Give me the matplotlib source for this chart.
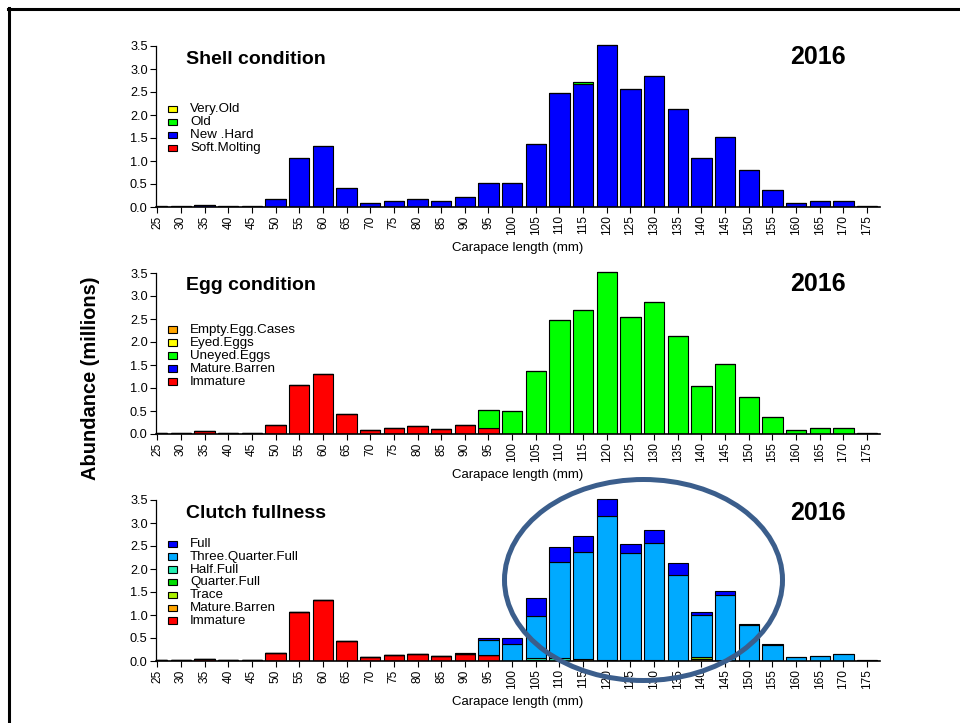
import matplotlib
matplotlib.use("Agg")
import matplotlib.pyplot as plt
from matplotlib.patches import Rectangle, Ellipse
from matplotlib.lines import Line2D
import numpy as np

plt.rcParams['font.family'] = ['Liberation Sans', 'DejaVu Sans']

# ---------------- data ----------------
sizes = [25, 30, 35, 40, 45, 50, 55, 60, 65, 70, 75, 80, 85, 90, 95, 100,
         105, 110, 115, 120, 125, 130, 135, 140, 145, 150, 155, 160, 165, 170, 175]
year = "2016"

# Shell condition (stack order bottom -> top)
shell_soft_molting = [0, 0, 0, 0, 0, 0, 0, 0, 0, 0, 0, 0, 0, 0, 0, 0,
                      0, 0.02, 0, 0, 0, 0, 0, 0.02, 0, 0, 0, 0, 0, 0, 0]
shell_new_hard = [0.02, 0.02, 0.05, 0.02, 0.02, 0.18, 1.06, 1.32, 0.42, 0.09, 0.14, 0.17, 0.12, 0.21, 0.52, 0.52,
                  1.36, 2.45, 2.68, 3.52, 2.56, 2.84, 2.14, 1.04, 1.53, 0.81, 0.38, 0.08, 0.12, 0.14, 0.03]
shell_old = [0, 0, 0, 0, 0, 0, 0, 0, 0, 0, 0, 0, 0, 0, 0, 0,
             0, 0, 0.03, 0, 0, 0, 0, 0, 0, 0, 0, 0, 0, 0, 0]
shell_very_old = [0] * 31

# Egg condition
egg_immature = [0.02, 0.02, 0.06, 0.02, 0.02, 0.19, 1.07, 1.31, 0.43, 0.08, 0.14, 0.17, 0.10, 0.19, 0.14, 0.01,
                0, 0, 0, 0, 0, 0, 0, 0, 0, 0, 0, 0, 0, 0, 0]
egg_mature_barren = [0] * 31
egg_uneyed = [0, 0, 0, 0, 0, 0, 0, 0, 0, 0, 0, 0, 0, 0, 0.38, 0.48,
              1.36, 2.48, 2.69, 3.52, 2.54, 2.86, 2.13, 1.05, 1.53, 0.81, 0.37, 0.08, 0.12, 0.14, 0.02]
egg_eyed = [0] * 31
egg_empty = [0] * 31

# Clutch fullness
cl_immature = [0.02, 0.02, 0.05, 0.02, 0.02, 0.17, 1.06, 1.33, 0.43, 0.08, 0.14, 0.16, 0.10, 0.15, 0.12, 0,
               0, 0, 0, 0, 0, 0, 0, 0, 0, 0, 0, 0, 0, 0, 0]
cl_mature_barren = [0, 0, 0, 0, 0, 0, 0, 0, 0, 0, 0, 0, 0, 0, 0, 0,
                    0, 0, 0.05, 0.03, 0.02, 0.02, 0, 0.05, 0, 0, 0, 0, 0, 0, 0]
cl_trace = [0, 0, 0, 0, 0, 0, 0, 0, 0, 0, 0, 0, 0, 0, 0, 0,
            0, 0, 0, 0, 0, 0, 0, 0.03, 0, 0, 0, 0, 0, 0, 0]
cl_quarter = [0, 0, 0, 0, 0, 0, 0, 0, 0, 0, 0, 0, 0, 0, 0, 0,
              0.02, 0, 0, 0, 0, 0, 0, 0, 0, 0, 0, 0, 0, 0, 0]
cl_half = [0, 0, 0, 0, 0, 0, 0, 0, 0, 0, 0, 0, 0, 0, 0, 0,
           0.04, 0.07, 0, 0, 0, 0, 0, 0, 0, 0, 0, 0, 0, 0, 0]
cl_three_quarter = [0, 0, 0, 0, 0, 0, 0, 0, 0, 0, 0, 0, 0, 0.03, 0.34, 0.37,
                    0.92, 2.09, 2.31, 3.13, 2.33, 2.54, 1.88, 0.93, 1.44, 0.78, 0.355, 0.08, 0.10, 0.146, 0.015]
cl_full = [0, 0, 0, 0, 0, 0, 0, 0, 0, 0, 0, 0, 0, 0, 0.04, 0.12,
           0.38, 0.31, 0.35, 0.36, 0.20, 0.28, 0.26, 0.045, 0.08, 0.02, 0.01, 0, 0, 0, 0]

panels = [
    dict(title="Shell condition", zero_y=207, leg_y=109, leg_sp=13.0, xlab_y=248, title_y=60, year_y=57,
         series=[("Soft.Molting", shell_soft_molting, "#FF0000"),
                 ("New .Hard", shell_new_hard, "#0000FF"),
                 ("Old", shell_old, "#00FF00"),
                 ("Very.Old", shell_very_old, "#FFFF00")]),
    dict(title="Egg condition", zero_y=434, leg_y=330, leg_sp=12.9, xlab_y=475, title_y=286, year_y=284,
         series=[("Immature", egg_immature, "#FF0000"),
                 ("Mature.Barren", egg_mature_barren, "#0000FF"),
                 ("Uneyed.Eggs", egg_uneyed, "#00FF00"),
                 ("Eyed.Eggs", egg_eyed, "#FFFF00"),
                 ("Empty.Egg.Cases", egg_empty, "#FFA500")]),
    dict(title="Clutch fullness", zero_y=661, leg_y=544, leg_sp=12.8, xlab_y=702, title_y=514, year_y=513,
         series=[("Immature", cl_immature, "#FF0000"),
                 ("Mature.Barren", cl_mature_barren, "#FFA500"),
                 ("Trace", cl_trace, "#AAF000"),
                 ("Quarter.Full", cl_quarter, "#00DD00"),
                 ("Half.Full", cl_half, "#22EEB0"),
                 ("Three.Quarter.Full", cl_three_quarter, "#00AAFF"),
                 ("Full", cl_full, "#0000FF")]),
]

W, H = 960, 723
fig = plt.figure(figsize=(W / 100, H / 100), dpi=100)


def fx(x):
    return x / W


def fy(y):
    return 1 - y / H


px_per_unit = 161 / 3.5
ymax = 3.55
x = np.arange(len(sizes))

for p in panels:
    ax = fig.add_axes([fx(156), fy(p["zero_y"]), (880 - 156) / W, px_per_unit * ymax / H])
    bottom = np.zeros(len(sizes))
    for lab, vals, col in p["series"]:
        v = np.array(vals, dtype=float)
        ax.bar(x, v, width=0.86, bottom=bottom, color=col, edgecolor="black", linewidth=0.8)
        bottom += v
    ax.set_xlim(-0.055, 30.55)
    ax.set_ylim(0, ymax)
    for s in ("top", "right"):
        ax.spines[s].set_visible(False)
    ax.spines["left"].set_bounds(0, 3.5)
    ax.spines["left"].set_linewidth(0.9)
    ax.spines["bottom"].set_linewidth(1.2)
    yt = np.arange(0, 3.51, 0.5)
    ax.set_yticks(yt)
    ax.set_yticklabels([f"{v:.1f}" for v in yt])
    ax.set_xticks(x)
    ax.set_xticklabels([str(s) for s in sizes], rotation=90)
    ax.tick_params(axis="both", direction="out", length=4, width=0.8, pad=2)
    ax.tick_params(axis="y", labelsize=9.2)
    ax.tick_params(axis="x", labelsize=8.6)

    fig.text(fx(186), fy(p["title_y"]), p["title"], fontsize=14, fontweight="bold",
             ha="left", va="center")
    fig.text(fx(846), fy(p["year_y"]), year, fontsize=18, fontweight="bold",
             ha="right", va="center")
    fig.text(fx(518), fy(p["xlab_y"]), "Carapace length (mm)", fontsize=9.5,
             ha="center", va="center")

    # legend (reverse stack order)
    for i, (lab, vals, col) in enumerate(reversed(p["series"])):
        yc = p["leg_y"] + i * p["leg_sp"]
        fig.add_artist(Rectangle((fx(168), fy(yc + 3)), 9 / W, 6.5 / H, transform=fig.transFigure,
                                 facecolor=col, edgecolor="black", linewidth=0.8))
        fig.text(fx(190), fy(yc), lab, fontsize=9.6, ha="left", va="center")

fig.text(fx(90), fy(378), "Abundance (millions)", rotation=90, fontsize=14.4,
         fontweight="bold", ha="center", va="center")

# frame lines
fig.add_artist(Line2D([fx(8), 1], [fy(8.5), fy(8.5)], transform=fig.transFigure,
                      color="black", linewidth=2.2))
fig.add_artist(Line2D([fx(8.5), fx(8.5)], [fy(8), 0], transform=fig.transFigure,
                      color="black", linewidth=2.2))

# highlight ellipse
fig.add_artist(Ellipse((fx(643.5), fy(580)), 278 / W, 201 / H, transform=fig.transFigure,
                       fill=False, edgecolor="#3B5E8C", linewidth=3.6, zorder=10))

fig.savefig("out.png", dpi=100)
